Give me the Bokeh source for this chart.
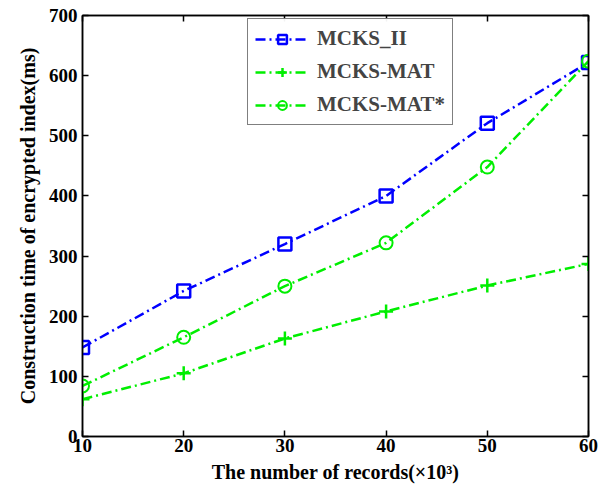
from bokeh.plotting import figure
from bokeh.models import LinearAxis, Range1d, FixedTicker, Legend, LegendItem
from bokeh.embed import file_html
from bokeh.resources import INLINE

records = [10, 20, 30, 40, 50, 60]
mcks_ii = [148, 242, 320, 400, 521, 622]
mcks_mat = [62, 105, 163, 208, 251, 287]
mcks_mat_star = [84, 165, 250, 322, 448, 624]
x_ticks = [10, 20, 30, 40, 50, 60]
y_ticks = [0, 100, 200, 300, 400, 500, 600, 700]

FONT = "Liberation Serif"

p = figure(width=600, height=485, output_backend="svg", toolbar_location=None,
           x_range=Range1d(10, 60), y_range=Range1d(0, 700),
           min_border_left=82, min_border_top=15, min_border_right=12, min_border_bottom=48)
p.grid.visible = False
p.outline_line_color = "black"
p.outline_line_width = 1.5

for ax in (p.xaxis[0], p.yaxis[0]):
    ax.major_tick_in = 6
    ax.major_tick_out = 0
    ax.minor_tick_line_color = None
    ax.axis_line_width = 1.5
    ax.major_tick_line_width = 1.5
    ax.major_label_text_font = FONT
    ax.major_label_text_font_style = "bold"
    ax.major_label_text_font_size = "19px"
    ax.major_label_text_color = "black"
    ax.axis_label_text_font = FONT
    ax.axis_label_text_font_style = "bold"
    ax.axis_label_text_color = "black"

p.xaxis[0].ticker = FixedTicker(ticks=x_ticks)
p.yaxis[0].ticker = FixedTicker(ticks=y_ticks)
p.xaxis[0].major_label_standoff = 2
p.yaxis[0].major_label_standoff = 5
p.xaxis[0].axis_label = "The number of records(×10³)"
p.yaxis[0].axis_label = "Construction time of encrypted index(ms)"
p.xaxis[0].axis_label_text_font_size = "20px"
p.yaxis[0].axis_label_text_font_size = "20px"
p.xaxis[0].axis_label_standoff = 6
p.yaxis[0].axis_label_standoff = 7

top = LinearAxis(ticker=FixedTicker(ticks=x_ticks), major_tick_in=6, major_tick_out=0,
                 minor_tick_line_color=None, major_label_text_color=None,
                 major_label_overrides={t: "" for t in x_ticks},
                 major_label_standoff=0, axis_line_width=1.5, major_tick_line_width=1.5)
right = LinearAxis(ticker=FixedTicker(ticks=y_ticks), major_tick_in=6, major_tick_out=0,
                   minor_tick_line_color=None, major_label_text_color=None,
                   major_label_overrides={t: "" for t in y_ticks},
                   major_label_standoff=0, axis_line_width=1.5, major_tick_line_width=1.5)
p.add_layout(top, "above")
p.add_layout(right, "right")

blue = "#0000FF"
green = "#00EE00"
dash = "10 4 2 4"

l1 = p.line(records, mcks_ii, line_color=blue, line_width=2.5, line_dash=dash)
m1 = p.scatter(records, mcks_ii, marker="square", size=13, line_color=blue, line_width=2.5, fill_color=None)
l2 = p.line(records, mcks_mat, line_color=green, line_width=2.5, line_dash=dash)
m2 = p.scatter(records, mcks_mat, marker="cross", size=14, line_color=green, line_width=2.5)
l3 = p.line(records, mcks_mat_star, line_color=green, line_width=2.5, line_dash=dash)
m3 = p.scatter(records, mcks_mat_star, marker="circle", size=13, line_color=green, line_width=2, fill_color=None)

legend = Legend(items=[
    LegendItem(label="MCKS_II", renderers=[l1, m1]),
    LegendItem(label="MCKS-MAT", renderers=[l2, m2]),
    LegendItem(label="MCKS-MAT*", renderers=[l3, m3]),
], location=(165, 311))
legend.label_text_font = FONT
legend.label_text_font_style = "bold"
legend.label_text_font_size = "21px"
legend.glyph_width = 54
legend.glyph_height = 22
legend.spacing = 8
legend.padding = 7
legend.margin = 0
legend.border_line_color = "black"
legend.border_line_width = 1.5
legend.label_standoff = 8
p.add_layout(legend, "center")

open("out.html", "w").write(file_html(p, INLINE))
